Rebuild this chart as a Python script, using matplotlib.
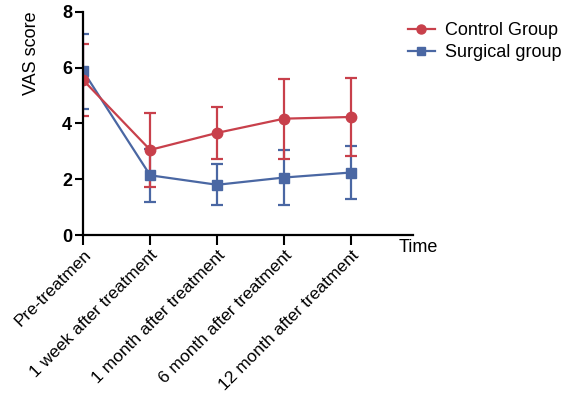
import numpy as np
import matplotlib.pyplot as plt
from matplotlib.lines import Line2D

plt.rcParams['font.family'] = ['Liberation Sans', 'DejaVu Sans']

labels = ['Pre-treatmen', '1 week after treatment', '1 month after treatment',
          '6 month after treatment', '12 month after treatment']
control_mean = [5.55, 3.05, 3.66, 4.17, 4.23]
control_sd = [1.30, 1.33, 0.93, 1.43, 1.40]
surgical_mean = [5.87, 2.14, 1.80, 2.06, 2.24]
surgical_sd = [1.34, 0.95, 0.73, 0.98, 0.95]

red = '#C8404B'
blue = '#4A67A3'

fig = plt.figure(figsize=(5.7, 4), dpi=100)
ax = fig.add_axes([0.146, 0.4125, 0.579, 0.558])

x = np.arange(len(labels))
ax.errorbar(x, surgical_mean, yerr=surgical_sd, color=blue, marker='s', ms=7,
            lw=1.6, elinewidth=1.6, capsize=4, capthick=1.6)
ax.errorbar(x, control_mean, yerr=control_sd, color=red, marker='o', ms=7.5,
            lw=1.6, elinewidth=1.6, capsize=4, capthick=1.6)

ax.set_xlim(0, 4.93)
ax.set_ylim(0, 8)
ax.set_yticks([0, 2, 4, 6, 8])
ax.set_xticks(x)
ax.set_xticklabels(labels, rotation=45, ha='right', rotation_mode='anchor', fontsize=12.5)
for t in ax.get_yticklabels():
    t.set_fontweight('bold')
    t.set_fontsize(13)
ax.tick_params(axis='y', length=6, width=1.5, pad=2)
ax.tick_params(axis='x', length=7, width=1.5, pad=2)
for s in ['top', 'right']:
    ax.spines[s].set_visible(False)
for s in ['left', 'bottom']:
    ax.spines[s].set_linewidth(1.6)
ax.set_ylabel('VAS score', fontsize=13, loc='top')
ax.yaxis.set_label_coords(-0.13, 1.0)
ax.text(0.955, -0.055, 'Time', transform=ax.transAxes, fontsize=13, va='center', ha='left')

handles = [Line2D([], [], color=red, marker='o', ms=6.5, lw=1.6),
           Line2D([], [], color=blue, marker='s', ms=6, lw=1.6)]
fig.legend(handles, ['Control Group', 'Surgical group'], loc='upper left',
           bbox_to_anchor=(0.715, 0.945), frameon=False, borderpad=0, borderaxespad=0,
           fontsize=13, handlelength=1.5, handletextpad=0.55, labelspacing=0.3)

fig.savefig('out.png', dpi=100)
